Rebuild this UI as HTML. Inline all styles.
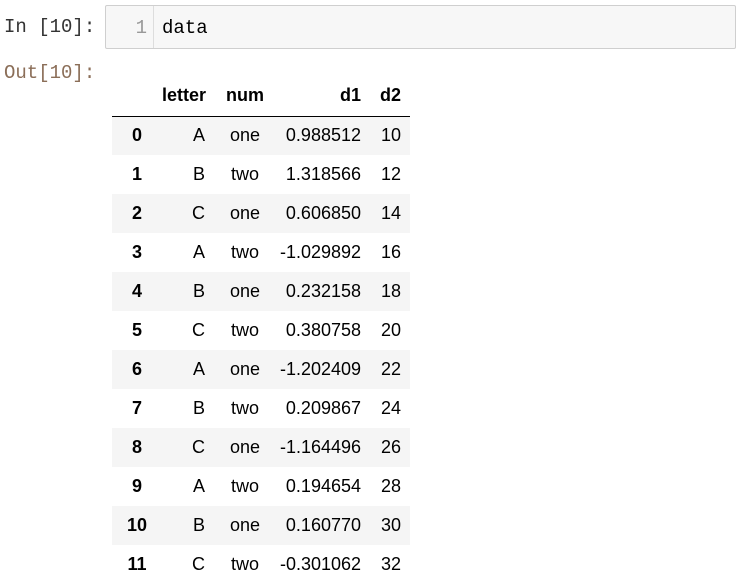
<!DOCTYPE html>
<html><head><meta charset="utf-8"><style>
body{margin:0;background:#fff;width:738px;height:582px;overflow:hidden;position:relative;font-family:"Liberation Sans",Arial,sans-serif}
.mono{font-family:"Liberation Mono","DejaVu Sans Mono",monospace}
#inp{position:absolute;left:4px;top:16px;font-size:19px;color:#333}
#out{position:absolute;left:4px;top:62px;font-size:19px;color:#8b6e58}
#cell{position:absolute;left:105px;top:5px;width:629px;height:42px;border:1px solid #cfcfcf;background:#f7f7f7;border-radius:2px}
#ln{position:absolute;left:0;top:0;width:48px;height:42px;border-right:1px solid #ddd;color:#999;font-size:19px;text-align:right;box-sizing:border-box;padding-right:6px;line-height:44px}
#code{position:absolute;left:56px;top:0;line-height:44px;font-size:19px;color:#000}
table{position:absolute;left:112px;top:76px;border-collapse:collapse;font-size:18px;color:#000;table-layout:fixed;width:298px}
th,td{height:39px;padding:0;box-sizing:border-box;white-space:nowrap}
thead th{height:40px;border-bottom:1px solid #000;font-weight:bold}
tbody tr:nth-child(odd){background:#f5f5f5}
.c0{width:50px;text-align:center;font-weight:bold}
.c1{width:48px;text-align:right;padding-right:5px}
.c2{width:70px;text-align:center}
.c3{width:90px;text-align:right;padding-right:9px}
.c4{width:40px;text-align:right;padding-right:9px}
</style></head><body>
<div id="inp" class="mono">In [10]:</div>
<div id="cell"><div id="ln" class="mono">1</div><div id="code" class="mono">data</div></div>
<div id="out" class="mono">Out[10]:</div>
<table>
<thead><tr><th class="c0"></th><th class="c1">letter</th><th class="c2">num</th><th class="c3">d1</th><th class="c4">d2</th></tr></thead>
<tbody>
<tr><td class="c0">0</td><td class="c1">A</td><td class="c2">one</td><td class="c3">0.988512</td><td class="c4">10</td></tr>
<tr><td class="c0">1</td><td class="c1">B</td><td class="c2">two</td><td class="c3">1.318566</td><td class="c4">12</td></tr>
<tr><td class="c0">2</td><td class="c1">C</td><td class="c2">one</td><td class="c3">0.606850</td><td class="c4">14</td></tr>
<tr><td class="c0">3</td><td class="c1">A</td><td class="c2">two</td><td class="c3">-1.029892</td><td class="c4">16</td></tr>
<tr><td class="c0">4</td><td class="c1">B</td><td class="c2">one</td><td class="c3">0.232158</td><td class="c4">18</td></tr>
<tr><td class="c0">5</td><td class="c1">C</td><td class="c2">two</td><td class="c3">0.380758</td><td class="c4">20</td></tr>
<tr><td class="c0">6</td><td class="c1">A</td><td class="c2">one</td><td class="c3">-1.202409</td><td class="c4">22</td></tr>
<tr><td class="c0">7</td><td class="c1">B</td><td class="c2">two</td><td class="c3">0.209867</td><td class="c4">24</td></tr>
<tr><td class="c0">8</td><td class="c1">C</td><td class="c2">one</td><td class="c3">-1.164496</td><td class="c4">26</td></tr>
<tr><td class="c0">9</td><td class="c1">A</td><td class="c2">two</td><td class="c3">0.194654</td><td class="c4">28</td></tr>
<tr><td class="c0">10</td><td class="c1">B</td><td class="c2">one</td><td class="c3">0.160770</td><td class="c4">30</td></tr>
<tr><td class="c0">11</td><td class="c1">C</td><td class="c2">two</td><td class="c3">-0.301062</td><td class="c4">32</td></tr>
</tbody></table>
</body></html>
